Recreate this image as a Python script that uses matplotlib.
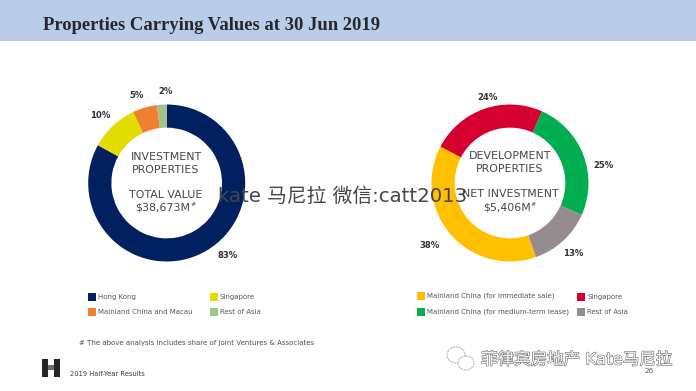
import matplotlib
matplotlib.use("Agg")
import matplotlib.pyplot as plt
from matplotlib.patches import Rectangle, Ellipse
import matplotlib.patheffects as pe

W, H = 696, 391
plt.rcParams['font.family'] = ['DejaVu Sans', 'Noto Sans CJK SC']

title = "Properties Carrying Values at 30 Jun 2019"
inv_values = [83, 10, 5, 2]
inv_labels = ["Hong Kong", "Singapore", "Mainland China and Macau", "Rest of Asia"]
inv_colors = ["#002060", "#E2DC00", "#F07F30", "#A0C48C"]
dev_values = [25, 13, 38, 24]
dev_labels = ["Mainland China (for medium-term lease)", "Rest of Asia",
              "Mainland China (for immediate sale)", "Singapore"]
dev_colors = ["#00AD50", "#968C90", "#FFC000", "#D40030"]

fig = plt.figure(figsize=(W / 100, H / 100), dpi=100, facecolor="white")
bg = fig.add_axes([0, 0, 1, 1])
bg.set_xlim(0, W)
bg.set_ylim(H, 0)
bg.axis("off")
bg.add_patch(Rectangle((0, 0), W, 41, color="#B9CDE9", lw=0))
bg.text(43, 25, title, family="Liberation Serif", weight="bold", fontsize=13.4,
        color="#26262E", va="center", ha="left")


def donut(cx, cy, values, colors, start):
    R = 78.5
    ax = fig.add_axes([(cx - R) / W, 1 - (cy + R) / H, 2 * R / W, 2 * R / H])
    ax.pie(values, colors=colors, startangle=start, counterclock=False, radius=1,
           wedgeprops=dict(width=0.295, linewidth=0), frame=False)
    ax.set_xlim(-1, 1)
    ax.set_ylim(-1, 1)
    ax.set_aspect("equal")
    ax.axis("off")


donut(166.7, 183, inv_values, inv_colors, 90)
donut(510, 183, dev_values, dev_colors, 90 - 24)

# overlay above the donuts
top = fig.add_axes([0, 0, 1, 1], facecolor="none")
top.set_xlim(0, W)
top.set_ylim(H, 0)
top.axis("off")


def pct(x, y, value):
    top.text(x, y, f"{value}%", fontsize=6.1, weight="bold", color="#303038",
             ha="center", va="center")


for (x, y), v in zip([(227.5, 256), (100, 116), (136.5, 96), (166, 91)], inv_values):
    pct(x, y, v)
for (x, y), v in zip([(603, 165), (573, 253), (430, 246), (488, 97)], dev_values):
    pct(x, y, v)

center = "#45454F"
for x, y, s in [(166, 157, "INVESTMENT"), (166, 170, "PROPERTIES"),
                (166, 195, "TOTAL VALUE"), (163, 208, "$38,673M"),
                (510, 156, "DEVELOPMENT"), (510, 169, "PROPERTIES"),
                (510, 194, "NET INVESTMENT"), (507, 207, "$5,406M")]:
    top.text(x, y, s, fontsize=7.9, color=center, ha="center", va="center")
top.text(193.5, 205, "#", fontsize=4.5, color=center, ha="center", va="center")
top.text(533.5, 204, "#", fontsize=4.5, color=center, ha="center", va="center")

legend_text = "#54546A"


def legend(x, y, color, label):
    top.add_patch(Rectangle((x, y - 3.75), 7.5, 7.5, color=color, lw=0))
    top.text(x + 10, y, label, fontsize=5.0, color=legend_text, ha="left", va="center")


legend(88, 297, inv_colors[0], inv_labels[0])
legend(210, 297, inv_colors[1], inv_labels[1])
legend(88, 312, inv_colors[2], inv_labels[2])
legend(210, 312, inv_colors[3], inv_labels[3])
legend(417, 296, dev_colors[2], dev_labels[2])
legend(577, 297, dev_colors[3], dev_labels[3])
legend(417, 312, dev_colors[0], dev_labels[0])
legend(577, 312, dev_colors[1], dev_labels[1])

top.text(79, 342.5, "# The above analysis includes share of Joint Ventures & Associates",
         fontsize=5.0, color="#4E4E5E", ha="left", va="center")
top.text(70, 374, "2019 Half-Year Results", fontsize=4.9, color="#3A3A44",
         ha="left", va="center")
top.text(649.5, 371, "26", fontsize=5.2, color="#55555F", ha="center", va="center")

# logo
for x0, wd in [(42, 6), (54, 6)]:
    top.add_patch(Rectangle((x0, 358.5), wd, 18.5, color="#26262A", lw=0))
top.add_patch(Rectangle((48, 365), 6, 5, color="#6E6E72", lw=0))

# overlaid watermarks
top.text(218, 196, "kate 马尼拉 微信:catt2013", fontsize=14.2, color="#46464A",
         ha="left", va="center", zorder=10)
shadow = [pe.withStroke(linewidth=0.8, foreground="#66666B")]
for cx, cy, rx, ry in [(456, 355, 9, 8), (466, 363, 8, 7)]:
    top.add_patch(Ellipse((cx, cy), 2 * rx, 2 * ry, fc="white", ec="#77777C",
                          lw=0.6, ls=(0, (1, 1)), zorder=10))
top.text(481, 359.5, "菲律宾房地产 Kate马尼拉", fontsize=11.9, color="white",
         ha="left", va="center", path_effects=shadow, zorder=11)

fig.savefig("out.png", dpi=100, facecolor="white")
